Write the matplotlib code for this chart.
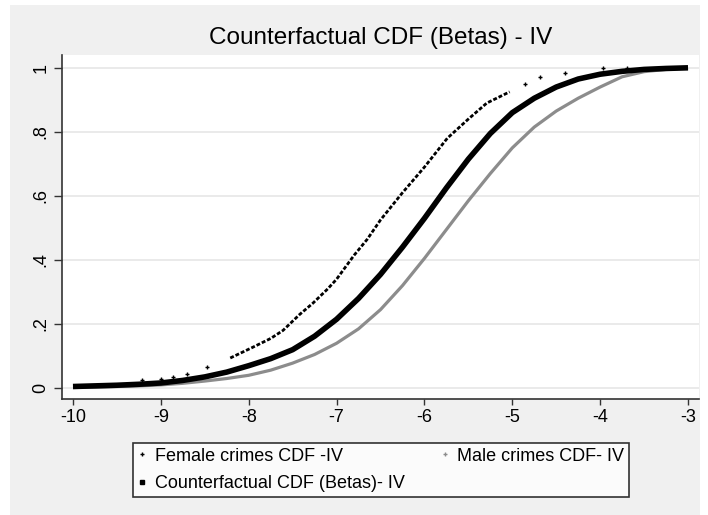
import matplotlib
matplotlib.use("Agg")
import matplotlib.pyplot as plt
from matplotlib.lines import Line2D
from matplotlib.patches import Rectangle

# values
x_grid = [-10, -9.75, -9.5, -9.25, -9, -8.75, -8.5, -8.25, -8, -7.75, -7.5, -7.25, -7,
          -6.75, -6.5, -6.25, -6, -5.75, -5.5, -5.25, -5, -4.75, -4.5, -4.25, -4,
          -3.75, -3.5, -3.25, -3]
cdf_counterfactual = [0.005, 0.007, 0.009, 0.012, 0.016, 0.024, 0.035, 0.05, 0.07,
                      0.092, 0.12, 0.162, 0.215, 0.28, 0.355, 0.44, 0.53, 0.625,
                      0.715, 0.795, 0.86, 0.905, 0.94, 0.965, 0.98, 0.989, 0.995,
                      0.998, 1.0]
cdf_male = [0.002, 0.003, 0.005, 0.007, 0.01, 0.015, 0.022, 0.03, 0.04, 0.056, 0.078,
            0.105, 0.14, 0.185, 0.245, 0.32, 0.405, 0.495, 0.585, 0.67, 0.75, 0.815,
            0.865, 0.905, 0.94, 0.972, 0.988, 0.995, 1.0]

x_female = [-9.21, -9.0, -8.86, -8.7, -8.47, -8.21, -7.95, -7.75, -7.61, -7.42, -7.27,
            -7.1, -7.0, -6.8, -6.65, -6.5, -6.25, -6.0, -5.74, -5.5, -5.29, -5.03,
            -4.85, -4.68, -4.4, -3.97, -3.7]
cdf_female = [0.025, 0.03, 0.034, 0.045, 0.066, 0.094, 0.128, 0.155, 0.18, 0.23, 0.265,
              0.31, 0.34, 0.415, 0.465, 0.525, 0.61, 0.69, 0.78, 0.84, 0.89, 0.925,
              0.95, 0.97, 0.985, 0.998, 1.0]

x_ticks = [-10, -9, -8, -7, -6, -5, -4, -3]
y_ticks = [0, 0.2, 0.4, 0.6, 0.8, 1]
y_ticklabels = ["0", ".2", ".4", ".6", ".8", "1"]

title = "Counterfactual CDF (Betas) - IV"
labels = ["Female crimes CDF -IV", "Counterfactual CDF (Betas)- IV", "Male crimes CDF- IV"]

plt.rcParams["font.family"] = ["Liberation Sans", "DejaVu Sans"]

W, H = 708, 515
fig = plt.figure(figsize=(W / 100, H / 100), dpi=100, facecolor="white")
fig.patches.append(Rectangle((10 / W, 0), 690 / W, 1 - 5 / H, transform=fig.transFigure,
                             facecolor="#f0f0f0", edgecolor="none", zorder=-10))

ax = fig.add_axes([62 / W, (H - 399) / H, (699 - 62) / W, (399 - 55) / H])
ax.set_facecolor("white")

ax.plot(x_grid, cdf_male, color="#8c8c8c", lw=2.3, solid_capstyle="butt", zorder=3)
ax.plot(x_grid, cdf_counterfactual, color="black", lw=4.0, solid_capstyle="butt", zorder=4)
# dense part of the female scatter drawn as a beaded line, sparse tails as markers
ax.plot(x_female[5:-5], cdf_female[5:-5], color="black", lw=2.0, ls=(0, (1.4, 0.7)), zorder=5)
ax.plot(x_female[:5] + x_female[-5:], cdf_female[:5] + cdf_female[-5:], ls="none",
        marker="+", ms=3.5, mew=1.0, color="black", zorder=5)

ax.set_xlim(-10.125, -2.875)
ax.set_ylim(-0.034, 1.04)
ax.set_xticks(x_ticks)
ax.set_xticklabels([str(v) for v in x_ticks], fontsize=13)
ax.set_yticks(y_ticks)
ax.set_yticklabels(y_ticklabels, fontsize=13, rotation=90, va="center")
ax.tick_params(axis="y", length=6, width=1, color="#333333", pad=3)
ax.tick_params(axis="x", length=4.5, width=1, color="#333333", pad=3)
ax.grid(axis="y", color="#e6e6e6", lw=1.2)
ax.set_axisbelow(True)
for side in ["top", "right"]:
    ax.spines[side].set_visible(False)
for side in ["left", "bottom"]:
    ax.spines[side].set_color("#333333")
    ax.spines[side].set_linewidth(1.2)

fig.text(381 / W, 1 - 38 / H, title, fontsize=17.5, ha="center", va="center")

handles = [
    Line2D([], [], ls="none", marker="+", ms=3.5, mew=1.0, color="black"),
    Line2D([], [], ls="none", marker="s", ms=3.5, color="black"),
    Line2D([], [], ls="none", marker="+", ms=3.5, mew=1.0, color="#8c8c8c"),
]
leg = fig.legend(handles, labels, ncol=2, loc="lower left", mode="expand",
                 bbox_to_anchor=(133 / W, (H - 497) / H, (629 - 133) / W, (497 - 439) / H),
                 fontsize=13, frameon=True, fancybox=False, edgecolor="black",
                 handlelength=0.5, handletextpad=0.45, columnspacing=0.6,
                 borderpad=0.25, labelspacing=0.6, borderaxespad=0)
leg.get_frame().set_linewidth(1.2)

fig.savefig("out.png", dpi=100, facecolor=fig.get_facecolor())
